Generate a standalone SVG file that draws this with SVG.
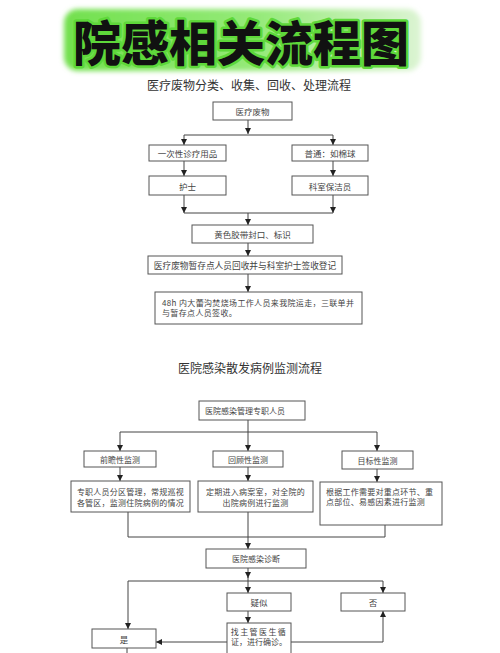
<svg xmlns="http://www.w3.org/2000/svg" width="500" height="653" viewBox="0 0 500 653">
<defs>
<linearGradient id="glow" x1="0" y1="0" x2="1" y2="0">
<stop offset="0" stop-color="#72e04e"/>
<stop offset="0.55" stop-color="#96ea7a"/>
<stop offset="1" stop-color="#dcf4d3"/>
</linearGradient>
<filter id="blur" x="-10%" y="-30%" width="120%" height="160%"><feGaussianBlur stdDeviation="2.5"/></filter>
<marker id="ah" viewBox="0 0 6 6" refX="6" refY="3" markerWidth="6" markerHeight="6" markerUnits="userSpaceOnUse" orient="auto">
<path d="M0,0 L6,3 L0,6 Z" fill="#222"/>
</marker>
<style>
.box{fill:#fff;stroke:#555;stroke-width:1}
.t{font-family:"Noto Sans CJK SC","Noto Sans",sans-serif;font-size:8.5px;fill:#444;dominant-baseline:central}
.m{font-size:8px}
.c{text-anchor:middle}
.h{font-family:"Noto Sans CJK SC","Noto Sans",sans-serif;font-size:12px;fill:#333;text-anchor:middle;dominant-baseline:central}
.ln{fill:none;stroke:#444;stroke-width:1}
.ar{fill:none;stroke:#444;stroke-width:1;marker-end:url(#ah)}
</style>
</defs>
<rect width="500" height="653" fill="#fff"/>

<g id="banner">
<rect x="64" y="9" width="357" height="62" rx="14" fill="url(#glow)" filter="url(#blur)"/>
<text x="241" y="40" font-family="'Noto Sans CJK SC',sans-serif" font-size="48" font-weight="900" text-anchor="middle" dominant-baseline="central" fill="#111" stroke="#5ed83a" stroke-width="5" stroke-linejoin="round" paint-order="stroke">院感相关流程图</text>
</g>

<g id="title1"><text class="h" x="249" y="84">医疗废物分类、收集、回收、处理流程</text></g>

<g id="connectors">
<line class="ar" x1="248" y1="120" x2="248" y2="134"/>
<line class="ln" x1="184" y1="135" x2="333" y2="135"/>
<line class="ar" x1="184" y1="135" x2="184" y2="145"/>
<line class="ar" x1="333" y1="135" x2="333" y2="145"/>
<line class="ar" x1="184" y1="161" x2="184" y2="176"/>
<line class="ar" x1="333" y1="161" x2="333" y2="176"/>
<line class="ar" x1="184" y1="195" x2="184" y2="213"/>
<line class="ar" x1="333" y1="195" x2="333" y2="213"/>
<line class="ln" x1="184" y1="213" x2="333" y2="213"/>
<line class="ar" x1="248" y1="213" x2="248" y2="225"/>
<line class="ar" x1="248" y1="243" x2="248" y2="256"/>
<line class="ar" x1="248" y1="274" x2="248" y2="292"/>

<line class="ln" x1="248" y1="420" x2="248" y2="432"/>
<line class="ln" x1="120" y1="432" x2="377" y2="432"/>
<line class="ar" x1="120" y1="432" x2="120" y2="451"/>
<line class="ar" x1="248" y1="432" x2="248" y2="451"/>
<line class="ar" x1="377" y1="432" x2="377" y2="451"/>
<line class="ar" x1="120" y1="467" x2="120" y2="481"/>
<line class="ar" x1="248" y1="467" x2="248" y2="481"/>
<line class="ar" x1="377" y1="469" x2="377" y2="482"/>
<polyline class="ln" points="128,512 128,537 385,537 385,525"/>
<line class="ar" x1="248" y1="512" x2="248" y2="549"/>
<line class="ar" x1="248" y1="568" x2="248" y2="578"/>
<line class="ln" x1="248" y1="577" x2="248" y2="581"/>
<line class="ln" x1="128" y1="581" x2="383" y2="581"/>
<line class="ar" x1="128" y1="581" x2="128" y2="629"/>
<line class="ar" x1="248" y1="581" x2="248" y2="593"/>
<line class="ar" x1="383" y1="581" x2="383" y2="593"/>
<line class="ar" x1="248" y1="611" x2="248" y2="623"/>
<line class="ar" x1="227" y1="642" x2="156" y2="642"/>
<polyline class="ar" points="291,642 383,642 383,611"/>
<line class="ln" x1="127" y1="648" x2="127" y2="653"/>
</g>

<g id="n-waste"><rect class="box" x="213" y="102" width="79" height="18"/><text class="t c" x="252.5" y="111">医疗废物</text></g>
<g id="n-disposable"><rect class="box" x="149" y="145" width="77" height="16"/><text class="t c" x="187.5" y="153">一次性诊疗用品</text></g>
<g id="n-common"><rect class="box" x="292" y="145" width="76" height="16"/><text class="t c" x="330" y="153">普通：如棉球</text></g>
<g id="n-nurse"><rect class="box" x="149" y="176" width="77" height="19"/><text class="t c" x="187.5" y="185.5">护士</text></g>
<g id="n-cleaner"><rect class="box" x="292" y="176" width="76" height="19"/><text class="t c" x="330" y="185.5">科室保洁员</text></g>
<g id="n-seal"><rect class="box" x="192" y="225" width="121" height="18"/><text class="t c" x="252.5" y="234">黄色胶带封口、标识</text></g>
<g id="n-collect"><rect class="box" x="148" y="256" width="194" height="18"/><text class="t c" x="245" y="265" style="font-size:8.7px">医疗废物暂存点人员回收并与科室护士签收登记</text></g>
<g id="n-48h"><rect class="box" x="155" y="292" width="207" height="32"/><text class="t m" x="162" y="302.5" style="letter-spacing:0.35px">48h 内大蕾沟焚烧场工作人员来我院运走，三联单并</text><text class="t m" x="162" y="312.5" style="letter-spacing:0.35px">与暂存点人员签收。</text></g>

<g id="title2"><text class="h" x="250" y="367">医院感染散发病例监测流程</text></g>

<g id="n-staff"><rect class="box" x="199" y="401" width="106" height="19"/><text class="t m" x="205" y="410.5">医院感染管理专职人员</text></g>
<g id="n-prospective"><rect class="box" x="84" y="451" width="72" height="16"/><text class="t c m" x="120" y="459">前瞻性监测</text></g>
<g id="n-retro"><rect class="box" x="213" y="451" width="70" height="16"/><text class="t c m" x="248" y="459">回顾性监测</text></g>
<g id="n-target"><rect class="box" x="342" y="451" width="71" height="18"/><text class="t c m" x="377.5" y="460">目标性监测</text></g>
<g id="n-zone"><rect class="box" x="71" y="481" width="119" height="31"/><text class="t c m" x="130.5" y="491" style="letter-spacing:0.25px">专职人员分区管理，常规巡视</text><text class="t c m" x="130.5" y="502" style="letter-spacing:0.25px">各管区，监测住院病例的情况</text></g>
<g id="n-records"><rect class="box" x="198" y="481" width="115" height="31"/><text class="t c m" x="255.5" y="491" style="letter-spacing:0.25px">定期进入病案室，对全院的</text><text class="t c m" x="255.5" y="502" style="letter-spacing:0.25px">出院病例进行监测</text></g>
<g id="n-focus"><rect class="box" x="320" y="482" width="122" height="43"/><text class="t m" x="326" y="491" style="letter-spacing:0.25px">根据工作需要对重点环节、重</text><text class="t m" x="326" y="501.5" style="letter-spacing:0.25px">点部位、易感因素进行监测</text></g>
<g id="n-diagnosis"><rect class="box" x="206" y="549" width="100" height="19"/><text class="t c m" x="256" y="558.5">医院感染诊断</text></g>
<g id="n-suspect"><rect class="box" x="227" y="593" width="64" height="18"/><text class="t c" x="259" y="602">疑似</text></g>
<g id="n-no"><rect class="box" x="341" y="593" width="64" height="18"/><text class="t c" x="373" y="602">否</text></g>
<g id="n-confirm"><rect class="box" x="227" y="623" width="64" height="40"/><text class="t c m" x="259" y="631" style="letter-spacing:1.4px">找主管医生循</text><text class="t c m" x="259" y="641.5">证，进行确诊。</text></g>
<g id="n-yes"><rect class="box" x="92" y="629" width="64" height="19"/><text class="t c" x="124" y="638.5">是</text></g>
</svg>
